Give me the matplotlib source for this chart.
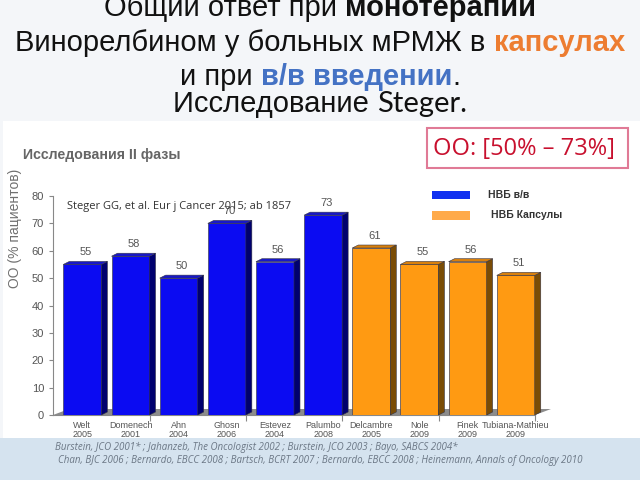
import matplotlib
matplotlib.use('Agg')
import matplotlib.pyplot as plt
from matplotlib.patches import Rectangle, Polygon

# data
studies = ['Welt', 'Domenech', 'Ahn', 'Ghosn', 'Estevez', 'Palumbo',
           'Delcambre', 'Nole', 'Finek', 'Tubiana-Mathieu']
years = ['2005', '2001', '2004', '2006', '2004', '2008',
         '2005', '2009', '2009', '2009']
response = [55, 58, 50, 70, 56, 73, 61, 55, 56, 51]
route = ['iv'] * 6 + ['oral'] * 4
legend_labels = ['НВБ в/в', 'НВБ Капсулы']
yticks = list(range(0, 81, 10))

W, H = 640, 480
fig = plt.figure(figsize=(6.4, 4.8), dpi=100, facecolor='#F4F6F9')


def fx(px):
    return px / W


def fy(py):
    return 1 - py / H


# white picture area and blue footer band
fig.add_artist(Rectangle((fx(3), fy(438)), 1, (438 - 121) / H, transform=fig.transFigure,
                         facecolor='white', edgecolor='none', zorder=-2))
fig.add_artist(Rectangle((0, 0), 1, 42 / H, transform=fig.transFigure,
                         facecolor='#D5E3EF', edgecolor='none', zorder=-2))

# title lines with mixed styles
sans = ['Liberation Sans', 'DejaVu Sans']
calib = ['Open Sans', 'DejaVu Sans']
lato = ['Lato', 'DejaVu Sans']
renderer = fig.canvas.get_renderer()


def draw_runs(y_px, runs, size):
    texts = []
    for s, weight, color, family in runs:
        t = fig.text(0, fy(y_px), s, fontsize=size, fontweight=weight, color=color,
                     family=family, va='baseline', ha='left')
        texts.append(t)
    widths = [t.get_window_extent(renderer).width for t in texts]
    x = (W - sum(widths)) / 2
    for t, w in zip(texts, widths):
        t.set_x(fx(x))
        x += w


draw_runs(16, [('Общий ответ при ', 'normal', '#111111', sans),
               ('монотерапии', 'bold', '#111111', sans)], 21)
draw_runs(51, [('Винорелбином у больных мРМЖ в ', 'normal', '#111111', sans),
               ('капсулах', 'bold', '#ED7D31', sans)], 21)
draw_runs(85, [('и при ', 'normal', '#111111', sans),
               ('в/в введении', 'bold', '#4472C4', sans),
               ('.', 'normal', '#111111', sans)], 21)
draw_runs(112, [('Исследование ', 'normal', '#111111', sans),
                ('Steger.', 'normal', '#111111', lato)], 21)

# chart
ax = fig.add_axes([fx(53), fy(415), (535 - 53) / W, (415 - 196) / H])
ax.set_facecolor('none')
ax.set_xlim(-0.61, 9.4)
ax.set_ylim(0, 80)

x = list(range(len(studies)))
bw = 0.79
front = {'iv': '#0B0BF2', 'oral': '#FF9A12'}
side = {'iv': '#00006E', 'oral': '#7A4C05'}
top = {'iv': '#1818C8', 'oral': '#D9800C'}
colors = [front[r] for r in route]
ax.bar(x, response, width=bw, color=colors, edgecolor='#44445A', linewidth=0.5, zorder=3)

# depth offsets in data units
p0 = ax.transData.transform((0, 0))
p1 = ax.transData.transform((1, 1))
ux = p1[0] - p0[0]
uy = p1[1] - p0[1]
dx, dy = 6 / ux, 3 / uy

# floor
x0, x1 = ax.get_xlim()
ax.add_patch(Polygon([(x0, 0), (x1, 0), (x1 + 16 / ux, 6 / uy), (x0 + 16 / ux, 6 / uy)],
                     closed=True, facecolor='#8C8C8C', edgecolor='none', zorder=1, clip_on=False))

for xi, v, r in zip(x, response, route):
    l, rr = xi - bw / 2, xi + bw / 2
    ax.add_patch(Polygon([(rr, 0), (rr + dx, dy), (rr + dx, v + dy), (rr, v)], closed=True,
                         facecolor=side[r], edgecolor='#333344', linewidth=0.4, zorder=3, clip_on=False))
    ax.add_patch(Polygon([(l, v), (l + dx, v + dy), (rr + dx, v + dy), (rr, v)], closed=True,
                         facecolor=top[r], edgecolor='#333344', linewidth=0.4, zorder=3, clip_on=False))
    ax.annotate(str(v), (xi + dx / 2, v + dy), xytext=(0, 3), textcoords='offset points',
                ha='center', va='bottom', fontsize=8, color='#555555', family=sans, zorder=4)

for xi, s, yr in zip(x, studies, years):
    ax.annotate(s + '\n' + yr, (xi, 0), xycoords=('data', 'axes fraction'), xytext=(0, -4),
                textcoords='offset points', ha='center', va='top', fontsize=6.5,
                color='#555555', family=sans, linespacing=1.0)

for sp in ['top', 'right']:
    ax.spines[sp].set_visible(False)
for sp in ['left', 'bottom']:
    ax.spines[sp].set_color('#888888')
    ax.spines[sp].set_linewidth(0.8)
ax.set_yticks(yticks)
ax.tick_params(axis='y', colors='#888888', labelcolor='#555555', labelsize=8, length=3)
ax.set_xticks([1.4, 3.4, 5.4, 7.4, 9.4])
ax.set_xticklabels([])
ax.tick_params(axis='x', colors='#888888', length=4)
for lab in ax.get_yticklabels():
    lab.set_family(sans)

# texts inside the picture
fig.text(fx(23), fy(155), 'Исследования II фазы', fontsize=10.2, fontweight='bold',
         color='#666666', family=sans, va='center', ha='left')
fig.text(fx(15), fy(228), 'ОО (% пациентов)', fontsize=10, rotation=90, color='#707070',
         family=sans, va='center', ha='center')
fig.text(fx(67), fy(207), 'Steger GG, et al. Eur j Cancer 2015; ab 1857', fontsize=8,
         color='#333333', family=calib, va='center', ha='left', zorder=5)

# red box
fig.add_artist(Rectangle((fx(427), fy(168)), (628 - 427) / W, 40 / H, transform=fig.transFigure,
                         facecolor='white', edgecolor='#E07A96', linewidth=1.5))
fig.text(fx(524), fy(149), 'ОО: [50% – 73%]', fontsize=17, color='#C8102E',
         family=calib, va='center', ha='center')

# legend
leg_colors = ['#1030F0', '#FFAA4A']
for (y0, y1), c, lab, tx in zip([(191, 199), (211, 220)], leg_colors, legend_labels, [488, 491]):
    fig.add_artist(Rectangle((fx(432), fy(y1)), 38 / W, (y1 - y0) / H, transform=fig.transFigure,
                             facecolor=c, edgecolor='none'))
    fig.text(fx(tx), fy((y0 + y1) / 2), lab, fontsize=7.5, fontweight='bold', color='#333333',
             family=sans, va='center', ha='left')

# footer references
fig.text(fx(55), fy(447), 'Burstein, JCO 2001* ; Jahanzeb, The Oncologist 2002 ; Burstein, JCO 2003 ; Bayo, SABCS 2004*',
         fontsize=7.0, style='italic', color='#6B7785', family=calib, va='center', ha='left')
fig.text(fx(58), fy(460), 'Chan, BJC 2006 ; Bernardo, EBCC 2008 ; Bartsch, BCRT 2007 ; Bernardo, EBCC 2008 ; Heinemann, Annals of Oncology 2010',
         fontsize=7.0, style='italic', color='#6B7785', family=calib, va='center', ha='left')

fig.savefig('out.png', dpi=100, facecolor=fig.get_facecolor())
